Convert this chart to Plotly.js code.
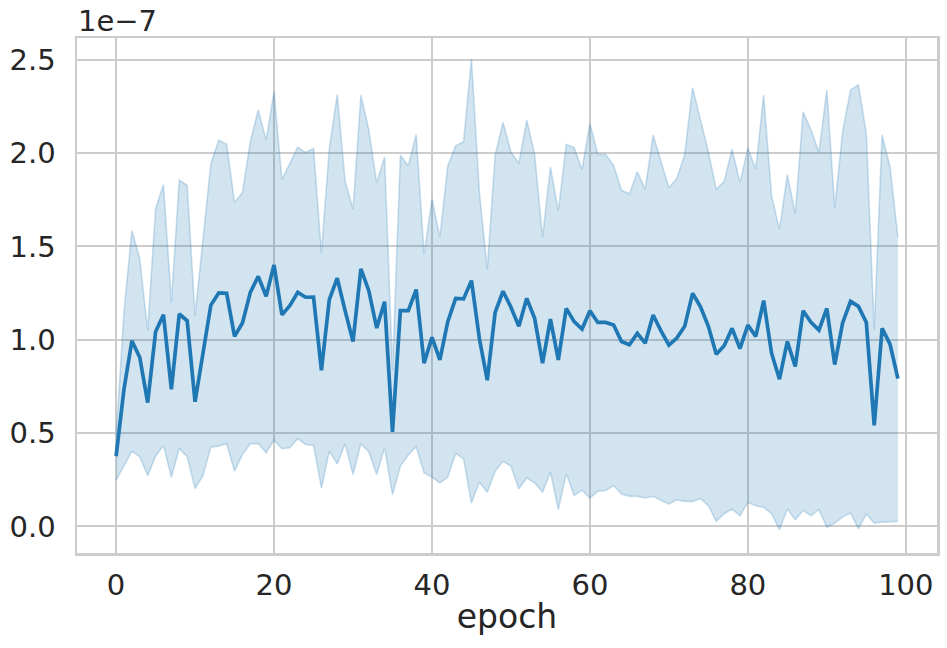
<!DOCTYPE html>
<html>
<head>
<meta charset="utf-8">
<script src="https://cdn.plot.ly/plotly-3.0.1.min.js"></script>
<style>html,body{margin:0;padding:0;background:#fff;}#chart{width:947px;height:648px;}</style>
</head>
<body>
<div id="chart"></div>
<script>
// values in units of 1e-7
const epochs = [0,1,2,3,4,5,6,7,8,9,10,11,12,13,14,15,16,17,18,19,20,21,22,23,24,25,26,27,28,29,30,31,32,33,34,35,36,37,38,39,40,41,42,43,44,45,46,47,48,49,50,51,52,53,54,55,56,57,58,59,60,61,62,63,64,65,66,67,68,69,70,71,72,73,74,75,76,77,78,79,80,81,82,83,84,85,86,87,88,89,90,91,92,93,94,95,96,97,98,99];
const meanVals = [0.376,0.735,0.995,0.905,0.663,1.043,1.134,0.735,1.138,1.102,
  0.668,0.923,1.186,1.251,1.249,1.018,1.090,1.254,1.340,1.233,
  1.401,1.134,1.183,1.254,1.228,1.229,0.837,1.215,1.330,1.156,
  0.991,1.380,1.263,1.063,1.204,0.507,1.156,1.156,1.269,0.875,
  1.013,0.892,1.097,1.222,1.219,1.317,1.007,0.783,1.147,1.260,
  1.174,1.072,1.222,1.115,0.875,1.111,0.892,1.168,1.097,1.057,
  1.156,1.093,1.093,1.079,0.991,0.973,1.034,0.982,1.133,1.048,
  0.971,1.009,1.072,1.249,1.177,1.072,0.923,0.968,1.061,0.953,
  1.079,1.018,1.210,0.928,0.789,0.991,0.857,1.156,1.093,1.052,
  1.168,0.867,1.090,1.206,1.179,1.093,0.541,1.061,0.977,0.792];
const upperVals = [0.48,1.15,1.586,1.434,1.048,1.703,1.832,1.201,1.855,1.828,
  1.129,1.541,1.944,2.070,2.047,1.735,1.789,2.061,2.231,2.070,
  2.330,1.858,1.944,2.032,2.004,2.025,1.466,2.025,2.315,1.851,
  1.699,2.312,2.124,1.842,1.980,0.839,1.989,1.932,2.100,1.457,
  1.753,1.550,1.932,2.039,2.061,2.505,1.792,1.380,1.989,2.165,
  2.007,1.944,2.177,1.993,1.550,1.927,1.690,2.047,2.030,1.912,
  2.159,1.993,1.993,1.935,1.801,1.783,1.900,1.806,2.097,1.953,
  1.815,1.864,1.993,2.351,2.186,2.007,1.806,1.849,2.021,1.842,
  2.028,1.914,2.312,1.774,1.590,1.885,1.676,2.222,2.124,2.004,
  2.339,1.706,2.115,2.339,2.366,2.106,1.057,2.097,1.927,1.550];
const lowerVals = [0.247,0.323,0.403,0.373,0.272,0.376,0.434,0.263,0.418,0.373,
  0.203,0.272,0.425,0.430,0.444,0.296,0.385,0.443,0.444,0.394,
  0.462,0.416,0.421,0.470,0.439,0.434,0.206,0.403,0.335,0.443,
  0.278,0.443,0.400,0.278,0.421,0.170,0.323,0.382,0.427,0.287,
  0.265,0.233,0.263,0.391,0.362,0.125,0.238,0.183,0.296,0.349,
  0.323,0.201,0.260,0.233,0.185,0.290,0.090,0.283,0.165,0.194,
  0.152,0.188,0.192,0.219,0.174,0.161,0.161,0.152,0.161,0.140,
  0.120,0.143,0.134,0.134,0.149,0.111,0.027,0.068,0.093,0.057,
  0.129,0.111,0.102,0.068,-0.018,0.093,0.036,0.086,0.057,0.090,
  -0.004,0.018,0.050,0.072,-0.013,0.066,0.018,0.023,0.025,0.027];
const xTicks = [0,20,40,60,80,100];
const yTicks = [0.0,0.5,1.0,1.5,2.0,2.5];
const yTickText = ["0.0","0.5","1.0","1.5","2.0","2.5"];

const blue = '#1f77b4';
const traces = [
  {x: epochs, y: lowerVals, mode: 'lines', line: {color: 'rgba(31,119,180,0.22)', width: 1.6}, hoverinfo: 'skip', showlegend: false},
  {x: epochs, y: upperVals, mode: 'lines', fill: 'tonexty', fillcolor: 'rgba(31,119,180,0.2)', line: {color: 'rgba(31,119,180,0.22)', width: 1.6}, hoverinfo: 'skip', showlegend: false},
  {x: epochs, y: meanVals, mode: 'lines', line: {color: blue, width: 3.7}, showlegend: false}
];
const fontFam = '"DejaVu Sans", sans-serif';
const layout = {
  width: 947, height: 648,
  margin: {l: 77, r: 10, t: 38, b: 95},
  paper_bgcolor: '#ffffff', plot_bgcolor: '#ffffff',
  font: {family: fontFam, color: '#262626', size: 29},
  xaxis: {
    range: [-4.95, 103.95], tickvals: xTicks, ticktext: xTicks.map(String),
    showgrid: true, gridcolor: '#cccccc', gridwidth: 2, zeroline: false,
    showline: true, linecolor: '#cccccc', linewidth: 2.5, mirror: true,
    ticks: '', ticklabelstandoff: 5,
    tickfont: {family: fontFam, size: 29, color: '#262626'},
    title: {text: 'epoch', font: {family: fontFam, size: 33, color: '#262626'}, standoff: 4}
  },
  yaxis: {
    range: [-0.1425, 2.617], tickvals: yTicks, ticktext: yTickText,
    showgrid: true, gridcolor: '#cccccc', gridwidth: 2, zeroline: false,
    showline: true, linecolor: '#cccccc', linewidth: 2.5, mirror: true,
    ticks: '', ticklabelstandoff: 13,
    tickfont: {family: fontFam, size: 29, color: '#262626'}
  },
  annotations: [{
    text: '1e\u22127', xref: 'paper', yref: 'paper', x: 0, y: 1, xanchor: 'left', yanchor: 'bottom',
    showarrow: false, yshift: -2, xshift: -1, font: {family: fontFam, size: 29, color: '#262626'}
  }]
};
Plotly.newPlot('chart', traces, layout, {staticPlot: true, displayModeBar: false});
</script>
</body>
</html>
